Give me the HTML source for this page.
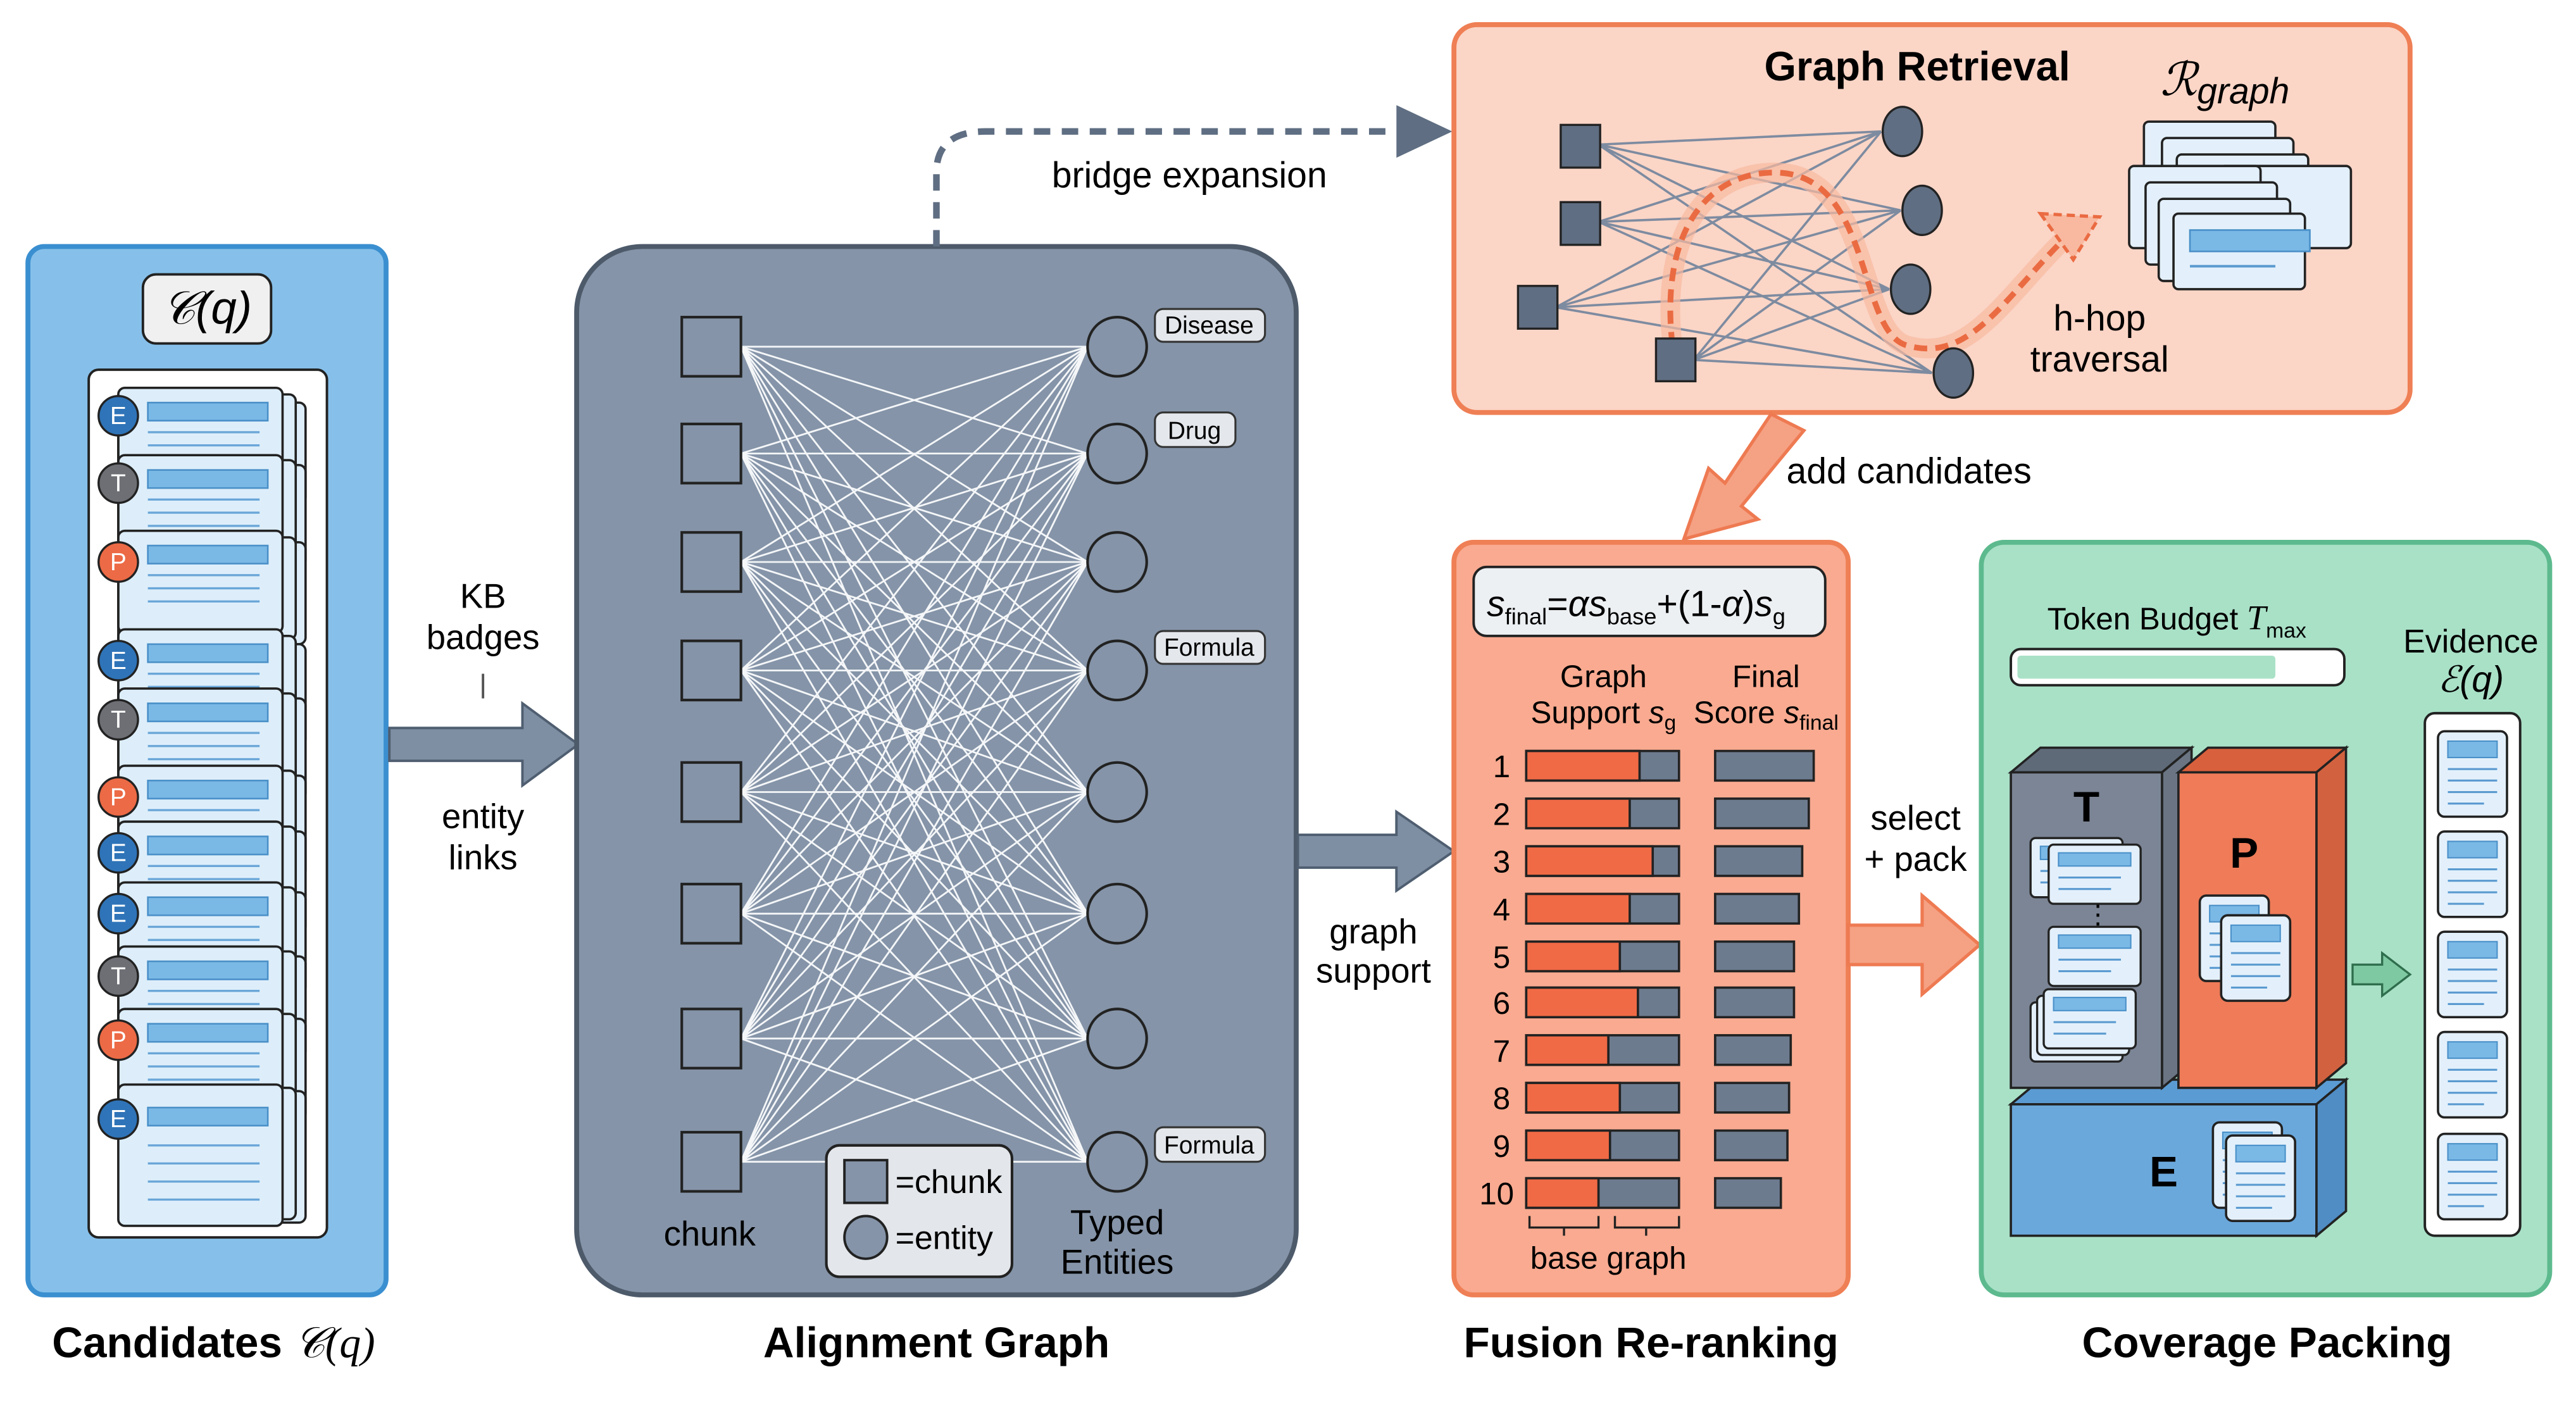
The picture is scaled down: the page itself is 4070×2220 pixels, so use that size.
<!DOCTYPE html>
<html><head><meta charset="utf-8"><style>
html,body{margin:0;padding:0;background:#fff;}
svg{display:block;}
text{font-family:"Liberation Sans",sans-serif;}
</style></head><body>
<svg width="4070" height="2220" viewBox="0 0 1568 855" preserveAspectRatio="none" xmlns="http://www.w3.org/2000/svg">
<defs>
<g id="card">
<rect x="0" y="0" width="100" height="62" rx="4" fill="#ddeefa" stroke="#222" stroke-width="1.4"/>
<rect x="18" y="9" width="73" height="11" fill="#7ab8e6" stroke="#4a90c8" stroke-width="1"/>
<line x1="18" y1="27" x2="86" y2="27" stroke="#6aa6d8" stroke-width="1.3"/>
<line x1="18" y1="35" x2="86" y2="35" stroke="#6aa6d8" stroke-width="1.3"/>
<line x1="18" y1="43" x2="86" y2="43" stroke="#6aa6d8" stroke-width="1.3"/>
</g>
<g id="ecard">
<rect x="0" y="0" width="42" height="52" rx="4" fill="#e3f0fb" stroke="#222" stroke-width="1.4"/>
<rect x="6" y="6" width="30" height="10" fill="#7ab8e6" stroke="#4a90c8" stroke-width="0.8"/>
<line x1="6" y1="23" x2="36" y2="23" stroke="#5a9ad0" stroke-width="1.2"/>
<line x1="6" y1="30" x2="36" y2="30" stroke="#5a9ad0" stroke-width="1.2"/>
<line x1="6" y1="37" x2="36" y2="37" stroke="#5a9ad0" stroke-width="1.2"/>
<line x1="6" y1="44" x2="28" y2="44" stroke="#5a9ad0" stroke-width="1.2"/>
</g>
<g id="mcard">
<rect x="0" y="0" width="56" height="36" rx="3" fill="#e3f0fb" stroke="#222" stroke-width="1.3"/>
<rect x="6" y="5" width="44" height="8" fill="#7ab8e6" stroke="#4a90c8" stroke-width="0.8"/>
<line x1="6" y1="20" x2="44" y2="20" stroke="#5a9ad0" stroke-width="1.2"/>
<line x1="6" y1="27" x2="38" y2="27" stroke="#5a9ad0" stroke-width="1.2"/>
</g>
</defs>

<!-- Candidates panel -->
<rect x="17" y="150" width="218" height="638" rx="10" fill="#86c0ea" stroke="#3a8fd0" stroke-width="3"/>
<rect x="87" y="167" width="78" height="42" rx="8" fill="#f0f0f0" stroke="#222" stroke-width="1.5"/>
<text x="126" y="197" text-anchor="middle" font-family="Liberation Serif" font-style="italic" font-size="28">𝒞(q)</text>
<rect x="54" y="225" width="145" height="528" rx="6" fill="#fff" stroke="#222" stroke-width="1.5"/>
<g>
<use href="#card" x="86" y="245"/><use href="#card" x="80" y="240"/><use href="#card" x="72" y="236"/>
<use href="#card" x="86" y="283"/><use href="#card" x="80" y="280"/><use href="#card" x="72" y="277"/>
<use href="#card" x="86" y="330"/><use href="#card" x="80" y="327"/><use href="#card" x="72" y="323"/>
<use href="#card" x="86" y="392"/><use href="#card" x="80" y="387"/><use href="#card" x="72" y="383"/>
<use href="#card" x="86" y="425"/><use href="#card" x="80" y="422"/><use href="#card" x="72" y="419"/>
<use href="#card" x="86" y="472"/><use href="#card" x="80" y="469"/><use href="#card" x="72" y="466"/>
<use href="#card" x="86" y="506"/><use href="#card" x="80" y="503"/><use href="#card" x="72" y="500"/>
<use href="#card" x="86" y="543"/><use href="#card" x="80" y="540"/><use href="#card" x="72" y="537"/>
<use href="#card" x="86" y="582"/><use href="#card" x="80" y="579"/><use href="#card" x="72" y="576"/>
<use href="#card" x="86" y="620"/><use href="#card" x="80" y="617"/><use href="#card" x="72" y="614"/>
</g>
<rect x="86" y="664" width="100" height="80" rx="4" fill="#ddeefa" stroke="#222" stroke-width="1.4"/>
<rect x="80" y="662" width="100" height="80" rx="4" fill="#ddeefa" stroke="#222" stroke-width="1.4"/>
<rect x="72" y="660" width="100" height="86" rx="4" fill="#ddeefa" stroke="#222" stroke-width="1.4"/>
<rect x="90" y="674" width="73" height="11" fill="#7ab8e6" stroke="#4a90c8"/>
<g stroke="#6aa6d8" stroke-width="1.3"><line x1="90" y1="697" x2="158" y2="697"/><line x1="90" y1="708" x2="158" y2="708"/><line x1="90" y1="719" x2="158" y2="719"/><line x1="90" y1="730" x2="158" y2="730"/></g>
<line x1="72" y1="253" x2="72" y2="681" stroke="#222" stroke-width="1.4"/>
<g font-size="14" fill="#fff" text-anchor="middle" stroke="#222" stroke-width="1.3">
<circle cx="72" cy="253" r="12" fill="#2f74b8"/><circle cx="72" cy="294" r="12" fill="#6d6f74"/><circle cx="72" cy="342" r="12" fill="#ec6a45"/>
<circle cx="72" cy="402" r="12" fill="#2f74b8"/><circle cx="72" cy="438" r="12" fill="#6d6f74"/><circle cx="72" cy="485" r="12" fill="#ec6a45"/>
<circle cx="72" cy="519" r="12" fill="#2f74b8"/><circle cx="72" cy="556" r="12" fill="#2f74b8"/><circle cx="72" cy="594" r="12" fill="#6d6f74"/>
<circle cx="72" cy="633" r="12" fill="#ec6a45"/><circle cx="72" cy="681" r="12" fill="#2f74b8"/>
</g>
<g font-size="15" fill="#fff" text-anchor="middle">
<text x="72" y="258">E</text><text x="72" y="299">T</text><text x="72" y="347">P</text><text x="72" y="407">E</text><text x="72" y="443">T</text><text x="72" y="490">P</text><text x="72" y="524">E</text><text x="72" y="561">E</text><text x="72" y="599">T</text><text x="72" y="638">P</text><text x="72" y="686">E</text>
</g>
<text x="130" y="826" text-anchor="middle" font-size="26" font-weight="bold">Candidates <tspan font-family="Liberation Serif" font-style="italic" font-weight="normal">𝒞(q)</tspan></text>

<!-- arrow 1 -->
<path d="M237 443 L318 443 L318 428 L352 453 L318 478 L318 463 L237 463 Z" fill="#7f8fa3" stroke="#4f5e70" stroke-width="1.5"/>
<text x="294" y="370" text-anchor="middle" font-size="21">KB</text>
<text x="294" y="395" text-anchor="middle" font-size="21">badges</text>
<line x1="294" y1="410" x2="294" y2="425" stroke="#555" stroke-width="1.5"/>
<text x="294" y="504" text-anchor="middle" font-size="21">entity</text>
<text x="294" y="529" text-anchor="middle" font-size="21">links</text>

<!-- Alignment graph -->
<rect x="351" y="150" width="438" height="638" rx="40" fill="#8594a8" stroke="#4d5a6a" stroke-width="3"/>
<path stroke="#f4f6f8" stroke-width="1.1" fill="none" d="
M451 211L662 211M451 211L662 276M451 211L662 342M451 211L662 408M451 211L662 482M451 211L662 556M451 211L662 632M451 211L662 707
M451 276L662 211M451 276L662 276M451 276L662 342M451 276L662 408M451 276L662 482M451 276L662 556M451 276L662 632M451 276L662 707
M451 342L662 211M451 342L662 276M451 342L662 342M451 342L662 408M451 342L662 482M451 342L662 556M451 342L662 632M451 342L662 707
M451 408L662 211M451 408L662 276M451 408L662 342M451 408L662 408M451 408L662 482M451 408L662 556M451 408L662 632M451 408L662 707
M451 482L662 211M451 482L662 276M451 482L662 342M451 482L662 408M451 482L662 482M451 482L662 556M451 482L662 632M451 482L662 707
M451 556L662 211M451 556L662 276M451 556L662 342M451 556L662 408M451 556L662 482M451 556L662 556M451 556L662 632M451 556L662 707
M451 632L662 211M451 632L662 276M451 632L662 342M451 632L662 408M451 632L662 482M451 632L662 556M451 632L662 632M451 632L662 707
M451 707L662 211M451 707L662 276M451 707L662 342M451 707L662 408M451 707L662 482M451 707L662 556M451 707L662 632M451 707L662 707"/>
<g fill="#8594a8" stroke="#222" stroke-width="1.6">
<rect x="415" y="193" width="36" height="36"/><rect x="415" y="258" width="36" height="36"/><rect x="415" y="324" width="36" height="36"/><rect x="415" y="390" width="36" height="36"/>
<rect x="415" y="464" width="36" height="36"/><rect x="415" y="538" width="36" height="36"/><rect x="415" y="614" width="36" height="36"/><rect x="415" y="689" width="36" height="36"/>
<circle cx="680" cy="211" r="18"/><circle cx="680" cy="276" r="18"/><circle cx="680" cy="342" r="18"/><circle cx="680" cy="408" r="18"/>
<circle cx="680" cy="482" r="18"/><circle cx="680" cy="556" r="18"/><circle cx="680" cy="632" r="18"/><circle cx="680" cy="707" r="18"/>
</g>
<g fill="#e4e7eb" stroke="#333" stroke-width="1.2">
<rect x="703" y="188" width="67" height="20" rx="5"/><rect x="703" y="251" width="49" height="21" rx="5"/><rect x="703" y="384" width="67" height="20" rx="5"/><rect x="703" y="686" width="67" height="21" rx="5"/>
</g>
<g font-size="15" text-anchor="middle"><text x="736" y="203">Disease</text><text x="727" y="267">Drug</text><text x="736" y="399">Formula</text><text x="736" y="702">Formula</text></g>
<text x="432" y="758" text-anchor="middle" font-size="21">chunk</text>
<text x="680" y="751" text-anchor="middle" font-size="21">Typed</text>
<text x="680" y="775" text-anchor="middle" font-size="21">Entities</text>
<rect x="503" y="697" width="113" height="80" rx="8" fill="#e3e6ea" stroke="#222" stroke-width="1.6"/>
<rect x="514" y="706" width="26" height="26" fill="#8594a8" stroke="#222" stroke-width="1.5"/>
<circle cx="527" cy="753" r="13" fill="#8594a8" stroke="#222" stroke-width="1.5"/>
<text x="545" y="726" font-size="20">=chunk</text>
<text x="545" y="760" font-size="20">=entity</text>
<text x="570" y="826" text-anchor="middle" font-size="26" font-weight="bold">Alignment Graph</text>

<!-- bridge expansion -->
<path d="M570 150 L570 105 Q570 80 600 80 L850 80" fill="none" stroke="#5f6e82" stroke-width="4" stroke-dasharray="10 7"/>
<path d="M850 64 L884 80 L850 96 Z" fill="#5f6e82"/>
<text x="724" y="114" text-anchor="middle" font-size="22">bridge expansion</text>

<!-- Graph Retrieval -->
<rect x="885" y="15" width="582" height="236" rx="14" fill="#fbd5c6" stroke="#ef7f55" stroke-width="3"/>
<text x="1167" y="49" text-anchor="middle" font-size="25" font-weight="bold">Graph Retrieval</text>
<text x="1315" y="58" font-family="Liberation Serif" font-style="italic" font-size="28">ℛ<tspan font-size="22" dy="5">graph</tspan></text>
<path stroke="#7d8ba0" stroke-width="1.4" fill="none" d="
M973 88L1145 80M973 88L1157 128M973 88L1150 176M973 88L1176 227
M973 135L1145 80M973 135L1157 128M973 135L1150 176M973 135L1176 227
M947 187L1145 80M947 187L1157 128M947 187L1150 176M947 187L1176 227
M1031 219L1145 80M1031 219L1157 128M1031 219L1150 176M1031 219L1176 227"/>
<path d="M1018 210 C1010 140 1040 105 1080 105 C1140 105 1130 200 1160 210 C1200 222 1220 180 1262 140" fill="none" stroke="#f8b9a0" stroke-width="12" opacity="0.7"/>
<path d="M1018 210 C1010 140 1040 105 1080 105 C1140 105 1130 200 1160 210 C1200 222 1220 180 1262 140" fill="none" stroke="#ea6b42" stroke-width="3.5" stroke-dasharray="8 5"/>
<path d="M1242 130 L1278 132 L1262 158 Z" fill="#f8b9a0" stroke="#ea6b42" stroke-width="2" stroke-dasharray="5 3"/>
<g fill="#5f6e82" stroke="#222" stroke-width="1.3">
<rect x="950" y="76" width="24" height="26"/><rect x="950" y="123" width="24" height="26"/><rect x="924" y="174" width="24" height="26"/><rect x="1008" y="206" width="24" height="26"/>
<ellipse cx="1158" cy="80" rx="12" ry="15"/><ellipse cx="1170" cy="128" rx="12" ry="15"/><ellipse cx="1163" cy="176" rx="12" ry="15"/><ellipse cx="1189" cy="227" rx="12" ry="15"/>
</g>
<g stroke="#222" stroke-width="1.4" fill="#e3f0fb">
<rect x="1305" y="74" width="80" height="50" rx="3"/><rect x="1316" y="84" width="80" height="50" rx="3"/><rect x="1325" y="94" width="80" height="50" rx="3"/>
<rect x="1351" y="101" width="80" height="50" rx="3"/><rect x="1296" y="101" width="80" height="50" rx="3"/>
<rect x="1306" y="111" width="80" height="50" rx="3"/><rect x="1314" y="121" width="80" height="50" rx="3"/><rect x="1323" y="130" width="80" height="46" rx="3"/>
</g>
<rect x="1333" y="140" width="73" height="13" fill="#7ab8e6" stroke="#4a90c8"/>
<line x1="1333" y1="162" x2="1385" y2="162" stroke="#5a9ad0" stroke-width="1.5"/>
<text x="1278" y="201" text-anchor="middle" font-size="22">h-hop</text>
<text x="1278" y="226" text-anchor="middle" font-size="22">traversal</text>

<!-- add candidates -->
<path d="M1078 252 L1098 262 L1060 308 L1070 316 L1025 328 L1040 285 L1050 294 Z" fill="#f5a184" stroke="#ee7a52" stroke-width="2"/>
<text x="1162" y="294" text-anchor="middle" font-size="22">add candidates</text>

<!-- graph support arrow -->
<path d="M790 508 L850 508 L850 494 L885 518 L850 542 L850 528 L790 528 Z" fill="#7f8fa3" stroke="#4f5e70" stroke-width="1.5"/>
<text x="836" y="574" text-anchor="middle" font-size="21">graph</text>
<text x="836" y="598" text-anchor="middle" font-size="21">support</text>

<!-- Fusion -->
<rect x="885" y="330" width="240" height="458" rx="12" fill="#f9aa90" stroke="#ef7f55" stroke-width="3"/>
<rect x="897" y="345" width="214" height="42" rx="8" fill="#edf0f3" stroke="#222" stroke-width="1.5"/>
<text x="905" y="375" font-size="22"><tspan font-style="italic">s</tspan><tspan font-size="14" dy="5">final</tspan><tspan dy="-5">=</tspan><tspan font-style="italic">αs</tspan><tspan font-size="14" dy="5">base</tspan><tspan dy="-5">+(1-</tspan><tspan font-style="italic">α</tspan><tspan>)</tspan><tspan font-style="italic">s</tspan><tspan font-size="14" dy="5">g</tspan></text>
<text x="976" y="418" text-anchor="middle" font-size="19">Graph</text>
<text x="976" y="440" text-anchor="middle" font-size="19">Support <tspan font-style="italic">s</tspan><tspan font-size="13" dy="4">g</tspan></text>
<text x="1075" y="418" text-anchor="middle" font-size="19">Final</text>
<text x="1075" y="440" text-anchor="middle" font-size="19">Score <tspan font-style="italic">s</tspan><tspan font-size="13" dy="4">final</tspan></text>
<g font-size="19" text-anchor="middle">
<text x="914" y="473">1</text><text x="914" y="502">2</text><text x="914" y="531">3</text><text x="914" y="560">4</text><text x="914" y="589">5</text><text x="914" y="617">6</text><text x="914" y="646">7</text><text x="914" y="675">8</text><text x="914" y="704">9</text><text x="911" y="733">10</text>
</g>
<g stroke="#222" stroke-width="1.4">
<rect x="929" y="457" width="93" height="18" fill="#6d7b8f"/><rect x="929" y="457" width="69" height="18" fill="#f06a45"/>
<rect x="929" y="486" width="93" height="18" fill="#6d7b8f"/><rect x="929" y="486" width="63" height="18" fill="#f06a45"/>
<rect x="929" y="515" width="93" height="18" fill="#6d7b8f"/><rect x="929" y="515" width="77" height="18" fill="#f06a45"/>
<rect x="929" y="544" width="93" height="18" fill="#6d7b8f"/><rect x="929" y="544" width="63" height="18" fill="#f06a45"/>
<rect x="929" y="573" width="93" height="18" fill="#6d7b8f"/><rect x="929" y="573" width="57" height="18" fill="#f06a45"/>
<rect x="929" y="601" width="93" height="18" fill="#6d7b8f"/><rect x="929" y="601" width="68" height="18" fill="#f06a45"/>
<rect x="929" y="630" width="93" height="18" fill="#6d7b8f"/><rect x="929" y="630" width="50" height="18" fill="#f06a45"/>
<rect x="929" y="659" width="93" height="18" fill="#6d7b8f"/><rect x="929" y="659" width="57" height="18" fill="#f06a45"/>
<rect x="929" y="688" width="93" height="18" fill="#6d7b8f"/><rect x="929" y="688" width="51" height="18" fill="#f06a45"/>
<rect x="929" y="717" width="93" height="18" fill="#6d7b8f"/><rect x="929" y="717" width="44" height="18" fill="#f06a45"/>
<g fill="#6d7b8f">
<rect x="1044" y="457" width="60" height="18"/><rect x="1044" y="486" width="57" height="18"/><rect x="1044" y="515" width="53" height="18"/><rect x="1044" y="544" width="51" height="18"/><rect x="1044" y="573" width="48" height="18"/>
<rect x="1044" y="601" width="48" height="18"/><rect x="1044" y="630" width="46" height="18"/><rect x="1044" y="659" width="45" height="18"/><rect x="1044" y="688" width="44" height="18"/><rect x="1044" y="717" width="40" height="18"/>
</g></g>
<path d="M931 740 L931 747 L973 747 L973 740 M952 747 L952 752 M983 740 L983 747 L1022 747 L1022 740 M1002 747 L1002 752" fill="none" stroke="#222" stroke-width="1.3"/>
<text x="979" y="772" text-anchor="middle" font-size="19">base graph</text>
<text x="1005" y="826" text-anchor="middle" font-size="26" font-weight="bold">Fusion Re-ranking</text>

<!-- select + pack -->
<path d="M1125 563 L1170 563 L1170 545 L1205 575 L1170 605 L1170 587 L1125 587 Z" fill="#f5a184" stroke="#ee7a52" stroke-width="2"/>
<text x="1166" y="505" text-anchor="middle" font-size="21">select</text>
<text x="1166" y="530" text-anchor="middle" font-size="21">+ pack</text>

<!-- Coverage -->
<rect x="1206" y="330" width="346" height="458" rx="14" fill="#a9e1c7" stroke="#5dba8e" stroke-width="3"/>
<text x="1325" y="383" text-anchor="middle" font-size="19">Token Budget <tspan font-family="Liberation Serif" font-style="italic" font-size="21">T</tspan><tspan font-size="13" dy="5">max</tspan></text>
<rect x="1224" y="395" width="203" height="22" rx="6" fill="#fff" stroke="#222" stroke-width="1.5"/>
<rect x="1228" y="399" width="157" height="14" rx="2" fill="#a9e1c7"/>
<text x="1504" y="397" text-anchor="middle" font-size="20">Evidence</text>
<text x="1504" y="421" text-anchor="middle" font-family="Liberation Serif" font-style="italic" font-size="22">ℰ(q)</text>
<rect x="1476" y="434" width="58" height="318" rx="6" fill="#fff" stroke="#222" stroke-width="1.5"/>
<use href="#ecard" x="1484" y="445"/><use href="#ecard" x="1484" y="506"/><use href="#ecard" x="1484" y="567"/><use href="#ecard" x="1484" y="628"/><use href="#ecard" x="1484" y="690"/>
<path d="M1432 587 L1450 587 L1450 580 L1467 593 L1450 606 L1450 599 L1432 599 Z" fill="#7fc9a2" stroke="#2f6e4d" stroke-width="1.3"/>
<!-- E box -->
<path d="M1224 672 L1242 657 L1428 657 L1410 672 Z" fill="#5b9bd3" stroke="#222" stroke-width="1.4"/>
<path d="M1410 672 L1428 657 L1428 737 L1410 752 Z" fill="#4f8dc4" stroke="#222" stroke-width="1.4"/>
<rect x="1224" y="672" width="186" height="80" fill="#6aa8dc" stroke="#222" stroke-width="1.4"/>
<text x="1317" y="722" text-anchor="middle" font-size="26" font-weight="bold">E</text>
<use href="#ecard" x="1347" y="683"/><use href="#ecard" x="1355" y="691"/>
<!-- T box -->
<path d="M1224 470 L1242 455 L1334 455 L1316 470 Z" fill="#5f6a78" stroke="#222" stroke-width="1.4"/>
<path d="M1316 470 L1334 455 L1334 647 L1316 662 Z" fill="#6a7483" stroke="#222" stroke-width="1.4"/>
<rect x="1224" y="470" width="92" height="192" fill="#7b8595" stroke="#222" stroke-width="1.4"/>
<text x="1270" y="500" text-anchor="middle" font-size="26" font-weight="bold">T</text>
<use href="#mcard" x="1236" y="510"/><use href="#mcard" x="1247" y="514"/>
<text x="1277" y="562" text-anchor="middle" font-size="16">⋮</text>
<use href="#mcard" x="1247" y="564"/>
<use href="#mcard" x="1236" y="610"/><use href="#mcard" x="1240" y="606"/><use href="#mcard" x="1244" y="602"/>
<!-- P box -->
<path d="M1326 470 L1344 455 L1428 455 L1410 470 Z" fill="#d9603d" stroke="#222" stroke-width="1.4"/>
<path d="M1410 470 L1428 455 L1428 647 L1410 662 Z" fill="#d2623f" stroke="#222" stroke-width="1.4"/>
<rect x="1326" y="470" width="84" height="192" fill="#ef7b58" stroke="#222" stroke-width="1.4"/>
<text x="1366" y="528" text-anchor="middle" font-size="26" font-weight="bold">P</text>
<use href="#ecard" x="1339" y="545"/><use href="#ecard" x="1352" y="557"/>
<text x="1380" y="826" text-anchor="middle" font-size="26" font-weight="bold">Coverage Packing</text>
</svg>
</body></html>
